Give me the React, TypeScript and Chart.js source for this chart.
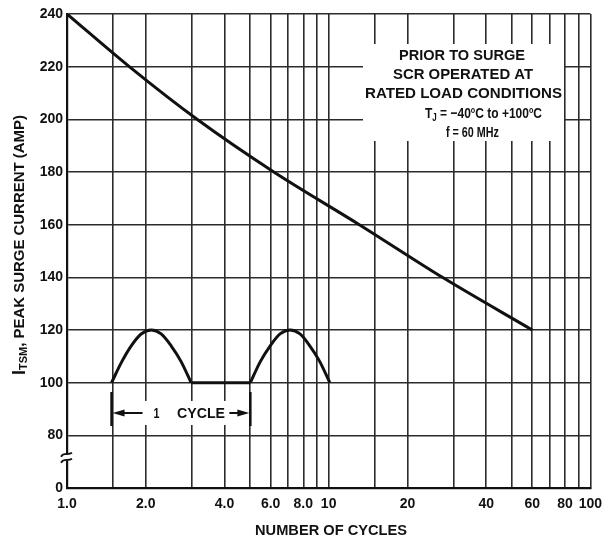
import React, { useEffect, useRef } from "react";
import { Chart, registerables } from "chart.js";

Chart.register(...registerables);

// ---- data ----
const surgeCycles = [1, 1.73, 3.14, 6.17, 13.1, 27.2, 60];
const surgeCurrent = [240, 220, 200, 180, 160, 140, 120];

const hump1Cycles = [1.48, 1.62, 1.76, 1.92, 2.1, 2.29, 2.5, 2.73, 2.98];
const hump2Cycles = [5.02, 5.48, 5.98, 6.52, 7.12, 7.77, 8.47, 9.25, 10.1];
const humpCurrent = [100, 108, 114, 118.5, 120, 118.5, 114, 108, 100];
const flatCycles = [2.98, 5.02];
const flatCurrent = [100, 100];

const xGridValues = [1, 1.5, 2, 3, 4, 5, 6, 7, 8, 9, 10, 15, 20, 30, 40, 50, 60, 70, 80, 90, 100];
const xTickLabels: Record<string, string> = {
  "1": "1.0", "2": "2.0", "4": "4.0", "6": "6.0", "8": "8.0",
  "10": "10", "20": "20", "40": "40", "60": "60", "80": "80", "100": "100",
};
const yTickValues = [60, 80, 100, 120, 140, 160, 180, 200, 220, 240];
const yZeroSlot = 60; // the broken axis shows "0" at this slot
const yBreakValue = 71.5;

const cycleStart = 1.48;
const cycleEnd = 5.02;
const cycleArrowValue = 88.5;
const cycleTickTop = 96.5;
const cycleTickBottom = 83.5;

const noteLines = [
  "PRIOR TO SURGE",
  "SCR OPERATED AT",
  "RATED LOAD CONDITIONS",
];
const xTitle = "NUMBER OF CYCLES";

const FONT = "'Liberation Sans Narrow', 'Liberation Sans', Arial, sans-serif";
const INK = "#111";

type Part = { text: string; size: number; dy: number };

function drawParts(ctx: CanvasRenderingContext2D, parts: Part[], cx: number, cy: number, targetW: number) {
  let total = 0;
  const widths = parts.map((p) => {
    ctx.font = `bold ${p.size}px ${FONT}`;
    const w = ctx.measureText(p.text).width;
    total += w;
    return w;
  });
  const s = targetW / total;
  ctx.save();
  ctx.translate(cx, cy);
  ctx.scale(s, 1);
  ctx.textAlign = "left";
  ctx.textBaseline = "alphabetic";
  let x = -total / 2;
  parts.forEach((p, i) => {
    ctx.font = `bold ${p.size}px ${FONT}`;
    ctx.fillText(p.text, x, p.dy);
    x += widths[i];
  });
  ctx.restore();
}

function fitText(ctx: CanvasRenderingContext2D, text: string, cx: number, cy: number, targetW: number, size = 15) {
  drawParts(ctx, [{ text, size, dy: size * 0.36 }], cx, cy, targetW);
}

const decorPlugin = {
  id: "decor",
  afterDraw(chart: any) {
    const ctx: CanvasRenderingContext2D = chart.ctx;
    const xs = chart.scales.x;
    const ys = chart.scales.y;
    const area = chart.chartArea;
    ctx.save();
    ctx.fillStyle = INK;
    ctx.strokeStyle = INK;

    // note box (white background hides grid)
    ctx.fillStyle = "#fff";
    ctx.fillRect(363, 44, 201, 97);
    ctx.fillStyle = INK;
    fitText(ctx, noteLines[0], 462, 55, 126);
    fitText(ctx, noteLines[1], 463, 73.5, 140);
    fitText(ctx, noteLines[2], 463.5, 93, 197);
    drawParts(
      ctx,
      [
        { text: "T", size: 15, dy: 5.5 },
        { text: "J", size: 10, dy: 8 },
        { text: " = \u221240", size: 15, dy: 5.5 },
        { text: "o", size: 9, dy: 0 },
        { text: "C to +100", size: 15, dy: 5.5 },
        { text: "o", size: 9, dy: 0 },
        { text: "C", size: 15, dy: 5.5 },
      ],
      483.5,
      112.5,
      117
    );
    fitText(ctx, "f = 60 MHz", 472.5, 132, 53);

    // 1 CYCLE dimension
    const x0 = xs.getPixelForValue(cycleStart);
    const x1 = xs.getPixelForValue(cycleEnd);
    const ya = ys.getPixelForValue(cycleArrowValue);
    const yt = ys.getPixelForValue(cycleTickTop);
    const yb = ys.getPixelForValue(cycleTickBottom);
    ctx.fillStyle = "#fff";
    ctx.fillRect(x0 + 12, ya - 12, x1 - x0 - 24, 24);
    ctx.fillStyle = INK;
    ctx.lineWidth = 2.5;
    ctx.beginPath();
    ctx.moveTo(x0, yt);
    ctx.lineTo(x0, yb);
    ctx.moveTo(x1, yt);
    ctx.lineTo(x1, yb);
    ctx.stroke();
    ctx.lineWidth = 2;
    ctx.beginPath();
    ctx.moveTo(x0 + 10, ya);
    ctx.lineTo(x0 + 31, ya);
    ctx.moveTo(x1 - 21, ya);
    ctx.lineTo(x1 - 10, ya);
    ctx.stroke();
    ctx.beginPath();
    ctx.moveTo(x0 + 1, ya);
    ctx.lineTo(x0 + 13, ya - 3.5);
    ctx.lineTo(x0 + 13, ya + 3.5);
    ctx.closePath();
    ctx.moveTo(x1 - 1, ya);
    ctx.lineTo(x1 - 13, ya - 3.5);
    ctx.lineTo(x1 - 13, ya + 3.5);
    ctx.closePath();
    ctx.fill();
    fitText(ctx, "1", x0 + 45, ya + 0.5, 6, 14);
    fitText(ctx, "CYCLE", x0 + 89.5, ya + 0.5, 48, 14);

    // axis break
    const xb = area.left;
    const yb2 = ys.getPixelForValue(yBreakValue);
    ctx.fillStyle = "#fff";
    ctx.fillRect(xb - 2, yb2 - 3, 4, 6);
    ctx.lineWidth = 1.8;
    ctx.beginPath();
    for (const d of [-3, 3]) {
      ctx.moveTo(xb - 6, yb2 + d + 2);
      ctx.bezierCurveTo(xb - 3, yb2 + d - 3, xb + 1, yb2 + d + 1, xb + 5, yb2 + d - 2);
    }
    ctx.stroke();

    // axis titles
    ctx.fillStyle = INK;
    fitText(ctx, xTitle, 331, 530, 152, 14);
    ctx.save();
    ctx.translate(19, 245);
    ctx.rotate(-Math.PI / 2);
    drawParts(
      ctx,
      [
        { text: "I", size: 18, dy: 6 },
        { text: "TSM", size: 11, dy: 8 },
        { text: ", PEAK SURGE CURRENT (AMP)", size: 15, dy: 5 },
      ],
      0,
      0,
      260
    );
    ctx.restore();
    ctx.restore();
  },
};

const toPoints = (xs: number[], ys: number[]) => xs.map((x, i) => ({ x, y: ys[i] }));

export default function App() {
  const ref = useRef<HTMLCanvasElement | null>(null);
  useEffect(() => {
    if (!ref.current) return;
    document.body.style.margin = "0";
    const lineStyle = {
      borderColor: INK,
      borderWidth: 3,
      pointRadius: 0,
      fill: false,
      cubicInterpolationMode: "monotone" as const,
    };
    const chart = new Chart(ref.current, {
      type: "line",
      data: {
        datasets: [
          { ...lineStyle, data: toPoints(surgeCycles, surgeCurrent) },
          { ...lineStyle, data: toPoints(hump1Cycles, humpCurrent) },
          { ...lineStyle, data: toPoints(flatCycles, flatCurrent) },
          { ...lineStyle, data: toPoints(hump2Cycles, humpCurrent) },
        ],
      },
      options: {
        animation: false,
        responsive: false,
        devicePixelRatio: 1,
        layout: { padding: { top: 14, right: 14, bottom: 0, left: 0 } },
        plugins: { legend: { display: false }, tooltip: { enabled: false } },
        scales: {
          x: {
            type: "logarithmic",
            min: 1,
            max: 100,
            afterBuildTicks: (scale: any) => {
              scale.ticks = xGridValues.map((v) => ({ value: v }));
            },
            afterFit: (scale: any) => {
              scale.height = 54;
            },
            ticks: {
              autoSkip: false,
              maxRotation: 0,
              padding: 8,
              color: INK,
              font: { family: "'Liberation Sans', Arial, sans-serif", size: 14, weight: "bold" },
              callback: (v: any) => xTickLabels[String(v)] ?? "",
            },
            grid: { color: "#2b2b2b", lineWidth: 1.6, drawTicks: false },
            border: { color: INK, width: 2.2 },
          },
          y: {
            type: "linear",
            min: 60,
            max: 240,
            afterBuildTicks: (scale: any) => {
              scale.ticks = yTickValues.map((v) => ({ value: v }));
            },
            afterFit: (scale: any) => {
              scale.width = 67;
            },
            ticks: {
              padding: 4,
              color: INK,
              font: { family: "'Liberation Sans', Arial, sans-serif", size: 14, weight: "bold" },
              callback: (v: any) => (v === yZeroSlot ? "0" : String(v)),
            },
            grid: { color: "#2b2b2b", lineWidth: 1.6, drawTicks: false },
            border: { color: INK, width: 2.2 },
          },
        },
      },
      plugins: [decorPlugin],
    });
    return () => chart.destroy();
  }, []);
  return (
    <div style={{ position: "absolute", left: 0, top: 0, width: 610, height: 542, background: "#fff" }}>
      <canvas ref={ref} width={610} height={542} />
    </div>
  );
}
